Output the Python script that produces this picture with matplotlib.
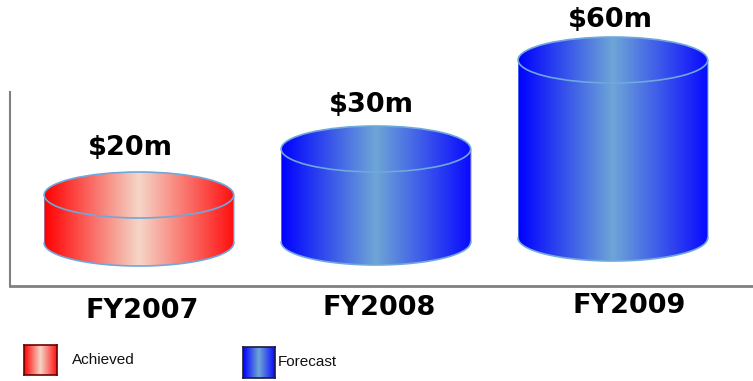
import numpy as np
import matplotlib.pyplot as plt
from matplotlib.colors import LinearSegmentedColormap
from matplotlib.path import Path
from matplotlib.patches import PathPatch, Ellipse

categories = ['FY2007', 'FY2008', 'FY2009']
values = [20, 30, 60]                      # revenue, $m
status = ['Achieved', 'Forecast', 'Forecast']
heights = [48, 93, 178]                    # drawn cylinder heights (chart units)
bases = [43, 44, 48]                       # cylinder base level (chart units)

red_map = LinearSegmentedColormap.from_list(
    'red', ['#ff0000', '#f5d6c8', '#ff1010'])
blue_map = LinearSegmentedColormap.from_list(
    'blue', ['#0000ff', '#6ea6d6', '#0a0aff'])
cmaps = {'Achieved': red_map, 'Forecast': blue_map}
edge = '#6fa8dc'

W, H = 753, 381
fig = plt.figure(figsize=(W / 100, H / 100), dpi=100)
ax = fig.add_axes([10 / W, 95 / H, 742 / W, 286 / H])
ax.set_xlim(-0.544, 2.587)
ax.set_ylim(0, 286)

rx, ry = 0.40, 23
grad = np.linspace(0, 1, 256).reshape(1, -1)


def cylinder(xc, y0, h, cmap):
    t = np.linspace(np.pi, 2 * np.pi, 80)
    bottom = np.column_stack([xc + rx * np.cos(t), y0 + ry * np.sin(t)])
    t2 = np.linspace(0, np.pi, 80)
    top = np.column_stack([xc + rx * np.cos(t2), y0 + h + ry * np.sin(t2)])
    verts = np.vstack([bottom, top, bottom[:1]])
    codes = [Path.MOVETO] + [Path.LINETO] * (len(verts) - 2) + [Path.CLOSEPOLY]
    patch = PathPatch(Path(verts, codes), facecolor='none', edgecolor='none')
    ax.add_patch(patch)
    im = ax.imshow(grad, cmap=cmap, extent=[xc - rx, xc + rx, y0 - ry, y0 + h + ry],
                   aspect='auto', origin='lower', interpolation='bilinear', zorder=2)
    im.set_clip_path(patch)
    ax.add_patch(Ellipse((xc, y0 + h), 2 * rx, 2 * ry, fill=False,
                         edgecolor=edge, lw=1.2, zorder=3))
    ax.plot(bottom[:, 0], bottom[:, 1], color=edge, lw=1.2, zorder=3)
    ax.plot([xc - rx, xc - rx], [y0, y0 + h], color=edge, lw=0.6, alpha=0.6, zorder=3)
    ax.plot([xc + rx, xc + rx], [y0, y0 + h], color=edge, lw=0.6, alpha=0.6, zorder=3)


val_off = [(-6, 17), (-3, 15), (-2, 12.5)]
cat_off = [(2.5, -18), (2.5, -16), (12, -14.5)]
for i, (cat, v, st, h, b) in enumerate(zip(categories, values, status, heights, bases)):
    cylinder(i, b, h, cmaps[st])
    ax.annotate('\\$%dm' % v, xy=(i, b + h + ry), xytext=val_off[i],
                textcoords='offset points', ha='center', va='center',
                fontsize=19.5, fontweight='bold', color='black',
                annotation_clip=False)
    ax.annotate(cat, xy=(i, 0), xytext=cat_off[i], textcoords='offset points',
                ha='center', va='center', fontsize=19.5, fontweight='bold',
                color='black', annotation_clip=False)

for s in ['top', 'right']:
    ax.spines[s].set_visible(False)
ax.spines['left'].set_bounds(0, 194)
ax.spines['left'].set_color('#808080')
ax.spines['left'].set_linewidth(1.5)
ax.spines['bottom'].set_color('#808080')
ax.spines['bottom'].set_linewidth(2)
ax.set_xticks([])
ax.set_yticks([])
ax.patch.set_alpha(0)

# legend
for (x0, y0, w, h), st, tx, border in [((24, 345, 33, 30), 'Achieved', 72, '#700000'),
                                        ((243, 347, 32, 31), 'Forecast', 278, '#1a1a40')]:
    lax = fig.add_axes([x0 / W, (H - y0 - h) / H, w / W, h / H])
    lax.imshow(grad, cmap=cmaps[st], aspect='auto', interpolation='bilinear')
    lax.set_xticks([])
    lax.set_yticks([])
    for sp in lax.spines.values():
        sp.set_color(border)
        sp.set_linewidth(1.2)
    fig.text(tx / W, (H - (y0 + h / 2)) / H, st, ha='left', va='center',
             fontsize=11, family='Liberation Sans', color='#111111')

fig.savefig('out.png', dpi=100)
